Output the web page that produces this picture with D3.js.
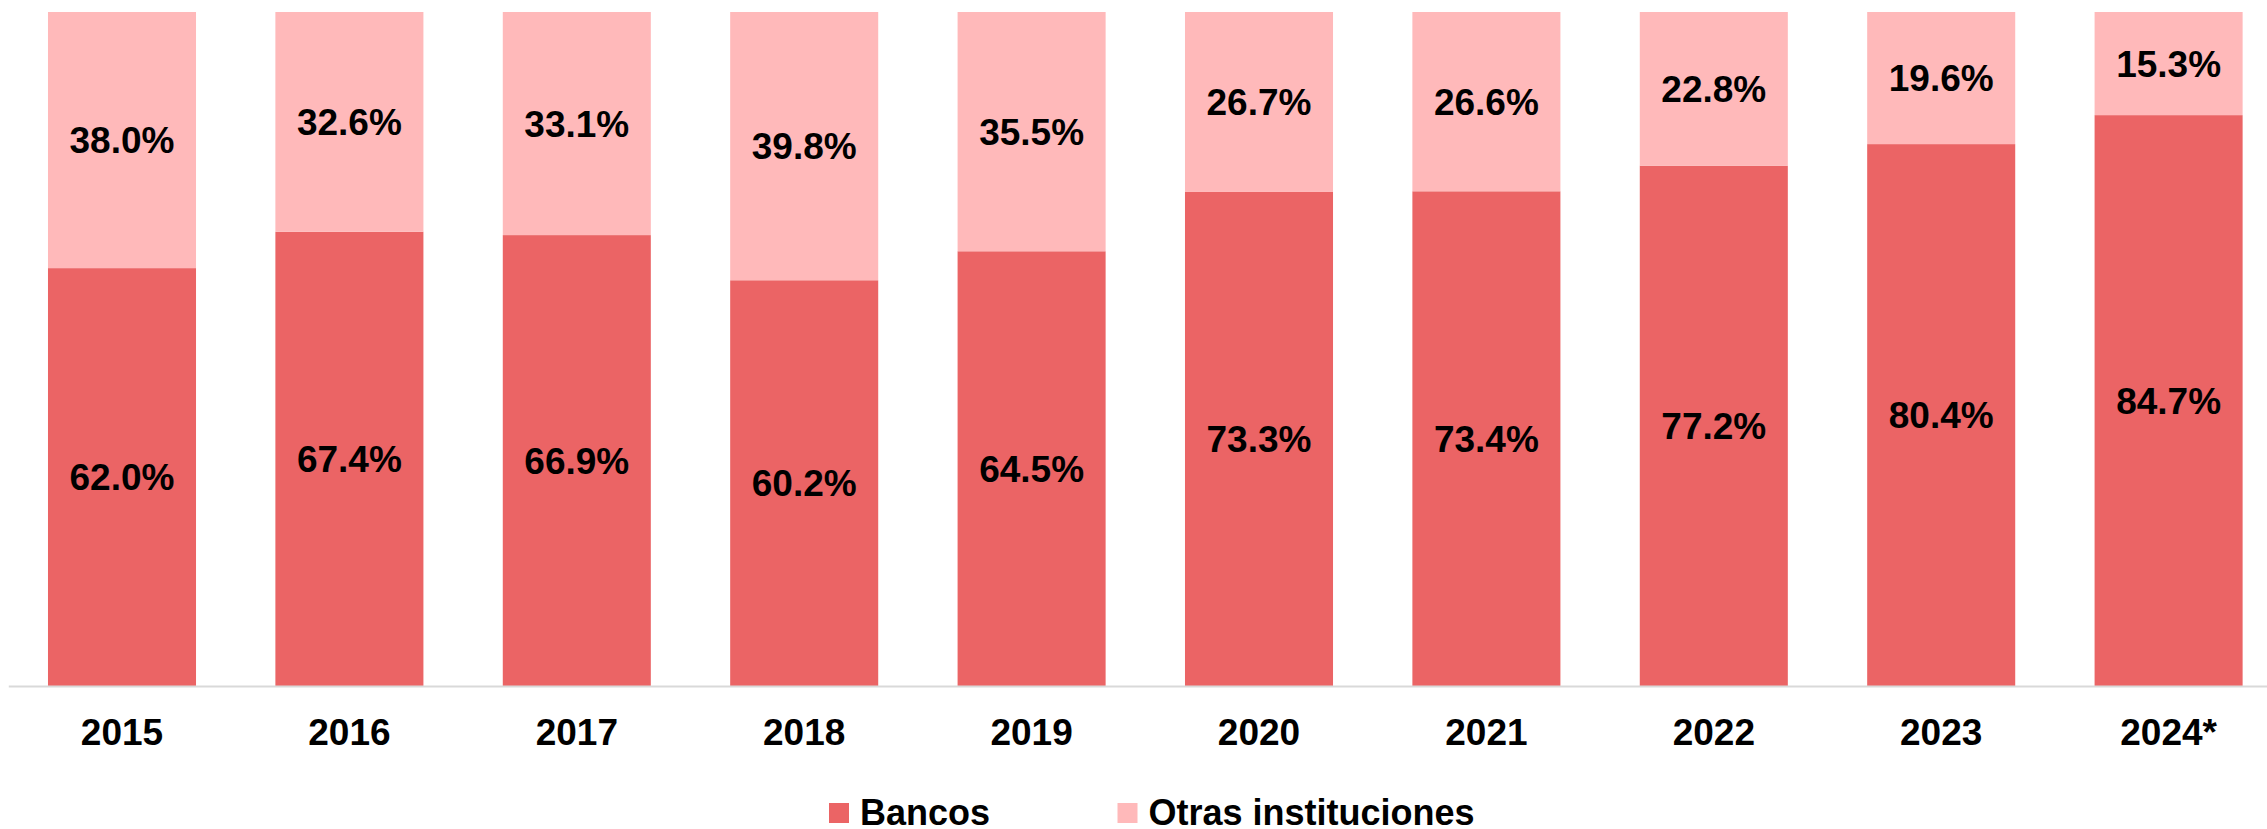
<!DOCTYPE html>
<html>
<head>
<meta charset="utf-8">
<script src="https://cdn.jsdelivr.net/npm/d3@7"></script>
<style>
  body { margin: 0; background: #fff; }
  svg text { font-family: "Liberation Sans", Arial, sans-serif; font-weight: bold; fill: #000; }
</style>
</head>
<body>
<div id="chart"></div>
<script>
// data
var years = ["2015", "2016", "2017", "2018", "2019", "2020", "2021", "2022", "2023", "2024*"];
var bancos = [62.0, 67.4, 66.9, 60.2, 64.5, 73.3, 73.4, 77.2, 80.4, 84.7];
var otras = [38.0, 32.6, 33.1, 39.8, 35.5, 26.7, 26.6, 22.8, 19.6, 15.3];
var seriesNames = ["Bancos", "Otras instituciones"];
var colors = ["#eb6465", "#ffb9ba"];

// note: "top" is window.top in a browser, so use other names
var width = 2267,
    height = 829,
    plotTop = 12,
    plotBase = 686;

var svg = d3.select("#chart").append("svg")
    .attr("width", width)
    .attr("height", height);

var x = d3.scaleBand()
    .domain(years)
    .range([8.3, 2282.3])
    .paddingInner(0.349)
    .paddingOuter(0.1745);

var y = d3.scaleLinear()
    .domain([0, 100])
    .range([plotBase, plotTop]);

var rows = years.map(function(yr, i) {
    return { year: yr, bancos: bancos[i], otras: otras[i] };
});

var stack = d3.stack().keys(["bancos", "otras"]);
var layers = stack(rows);

var g = svg.append("g");

var layer = g.selectAll("g.layer")
    .data(layers)
    .enter().append("g")
    .attr("class", "layer")
    .attr("fill", function(d, i) { return colors[i]; });

layer.selectAll("rect")
    .data(function(d) { return d; })
    .enter().append("rect")
    .attr("x", function(d) { return x(d.data.year); })
    .attr("width", x.bandwidth())
    .attr("y", function(d) { return y(d[1]); })
    .attr("height", function(d) { return y(d[0]) - y(d[1]); });

// value labels centred in each segment
layer.selectAll("text")
    .data(function(d) { return d; })
    .enter().append("text")
    .attr("x", function(d) { return x(d.data.year) + x.bandwidth() / 2; })
    .attr("y", function(d) { return (y(d[0]) + y(d[1])) / 2; })
    .attr("dy", "0.36em")
    .attr("text-anchor", "middle")
    .style("font-size", "37px")
    .text(function(d) { return (d[1] - d[0]).toFixed(1) + "%"; });

// x axis
var xAxis = svg.append("g")
    .attr("transform", "translate(0," + plotBase + ")")
    .call(d3.axisBottom(x).tickSize(0).tickSizeOuter(0));

xAxis.select(".domain")
    .attr("stroke", "#d9d9d9")
    .attr("stroke-width", 2);

xAxis.selectAll("text")
    .attr("y", 59)
    .attr("dy", null)
    .attr("fill", "#000")
    .style("font-size", "37px")
    .style("font-family", "'Liberation Sans', Arial, sans-serif")
    .style("font-weight", "bold");

// legend
var legendX = [829, 1117.5];
var legend = svg.append("g")
    .selectAll("g")
    .data(seriesNames)
    .enter().append("g")
    .attr("transform", function(d, i) { return "translate(" + legendX[i] + ",803)"; });

legend.append("rect")
    .attr("width", 20)
    .attr("height", 20)
    .attr("fill", function(d, i) { return colors[i]; });

legend.append("text")
    .attr("x", 31)
    .attr("y", 22)
    .style("font-size", "36px")
    .text(function(d) { return d; });
</script>
</body>
</html>
